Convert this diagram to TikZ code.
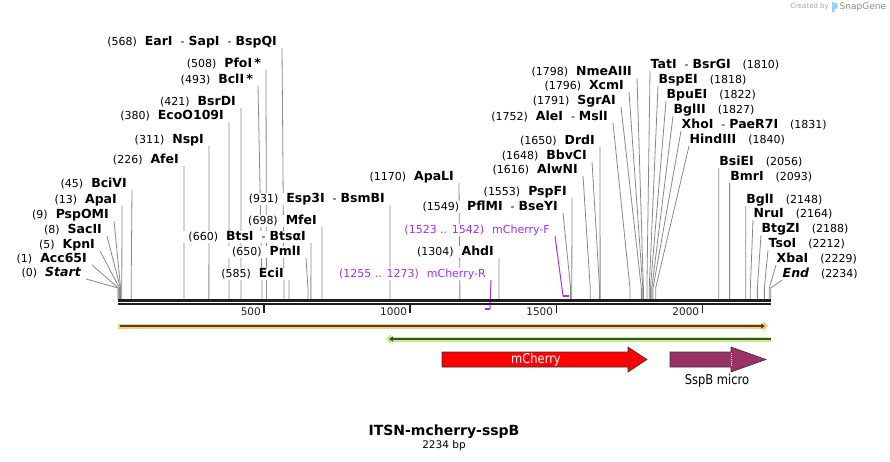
\documentclass[tikz,border=0pt]{standalone}
\usepackage{fontspec}
\setmainfont{DejaVu Sans}
\newfontfamily\featfont[FakeStretch=0.85]{DejaVu Sans}
\usetikzlibrary{arrows.meta}
\usetikzlibrary{backgrounds}

\definecolor{cutline}{RGB}{136,136,136}
\definecolor{primercol}{RGB}{160,50,240}
\definecolor{orangeband}{RGB}{252,204,120}
\definecolor{greenband}{RGB}{190,240,140}
\definecolor{orangeline}{RGB}{75,64,45}
\definecolor{greenline}{RGB}{62,78,50}
\definecolor{mcherryred}{RGB}{255,0,0}
\definecolor{sspbcol}{RGB}{153,51,102}
\definecolor{logogray}{RGB}{165,165,165}
\definecolor{logoblue}{RGB}{150,210,240}

\newcommand{\enz}[1]{{\fontsize{12.5}{14}\selectfont\bfseries #1}}

\begin{document}
\begin{tikzpicture}[
    x=1pt, y=-1pt,
    font=\fontsize{11}{12}\selectfont,
    lsite/.style={fill=white, inner xsep=5pt, inner ysep=0pt, text height=9.5pt, text depth=2pt, anchor=south east},
    rsite/.style={fill=white, inner xsep=0.5pt, inner ysep=0pt, text height=9.5pt, text depth=2pt, anchor=south west},
    psite/.style={lsite, text=primercol},
    cut/.style={cutline, line width=0.8pt},
    primer/.style={primercol, line width=1pt},
    primerbar/.style={primercol, line width=2pt},
    backbone/.style={black!88},
    tick/.style={black!88, line width=1.5pt},
    feature/.style={draw=black!80, line width=0.6pt}
  ]
  \useasboundingbox (0,0) rectangle (890,462);

  % cut site positions on the backbone
  \foreach \p in {0,1,5,8,9,13,45,226,311,380,421,493,508,568,585,650,660,698,931,
                  1170,1304,1549,1553,1616,1648,1650,1752,1791,1796,1798,1810,1818,
                  1822,1827,1831,1840,2056,2093,2148,2164,2188,2212,2229,2234} {
    \coordinate (b\p) at ({118+0.2922*\p},288);
    \coordinate (s\p) at ({118+0.2922*\p},299.2);
  }
  % primer ends
  \coordinate (pF1) at ({118+0.2922*1523},296);
  \coordinate (pF2) at ({118+0.2922*1542},296);
  \coordinate (pR1) at ({118+0.2922*1255},309);
  \coordinate (pR2) at ({118+0.2922*1273},309);

  % left labels
  \node[lsite] (earI) at (282,48) {(568)\hspace{8pt}\enz{EarI}\hspace{8pt}-\hspace{4pt}\enz{SapI}\hspace{8pt}-\hspace{4pt}\enz{BspQI}};
  \node[lsite] (pfoI) at (266,70) {(508)\hspace{8pt}\enz{PfoI\,*}};
  \node[lsite] (bclI) at (258,86) {(493)\hspace{8pt}\enz{BclI\,*}};
  \node[lsite] (bsrDI) at (241,108) {(421)\hspace{8pt}\enz{BsrDI}};
  \node[lsite] (ecoO) at (229,122) {(380)\hspace{8pt}\enz{EcoO109I}};
  \node[lsite] (nspI) at (209,146) {(311)\hspace{8pt}\enz{NspI}};
  \node[lsite] (afeI) at (184,166) {(226)\hspace{8pt}\enz{AfeI}};
  \node[lsite] (bciVI) at (132,190) {(45)\hspace{8pt}\enz{BciVI}};
  \node[lsite] (apaI) at (122,206) {(13)\hspace{8pt}\enz{ApaI}};
  \node[lsite] (pspOMI) at (114,221) {(9)\hspace{8pt}\enz{PspOMI}};
  \node[lsite] (sacII) at (107,236) {(8)\hspace{8pt}\enz{SacII}};
  \node[lsite] (kpnI) at (100,251) {(5)\hspace{8pt}\enz{KpnI}};
  \node[lsite] (acc65I) at (92,265) {(1)\hspace{8pt}\enz{Acc65I}};
  \node[lsite] (start) at (86,279) {(0)\hspace{8pt}\enz{\itshape Start}};

  \node[lsite] (esp3I) at (390,205) {(931)\hspace{8pt}\enz{Esp3I}\hspace{8pt}-\hspace{4pt}\enz{BsmBI}};
  \node[lsite] (mfeI) at (322,227) {(698)\hspace{8pt}\enz{MfeI}};
  \node[lsite] (btsI) at (311,243) {(660)\hspace{8pt}\enz{BtsI}\hspace{8pt}-\hspace{4pt}\enz{BtsαI}};
  \node[lsite] (pmlI) at (306,258) {(650)\hspace{8pt}\enz{PmlI}};
  \node[lsite] (eciI) at (289,280) {(585)\hspace{8pt}\enz{EciI}};

  \node[lsite] (apaLI) at (459,183) {(1170)\hspace{8pt}\enz{ApaLI}};
  \node[lsite] (ahdI) at (499,258) {(1304)\hspace{8pt}\enz{AhdI}};
  \node[lsite] (pflMI) at (563,213) {(1549)\hspace{8pt}\enz{PflMI}\hspace{8pt}-\hspace{4pt}\enz{BseYI}};
  \node[lsite] (pspFI) at (572,198) {(1553)\hspace{8pt}\enz{PspFI}};
  \node[lsite] (alwNI) at (583,176) {(1616)\hspace{8pt}\enz{AlwNI}};
  \node[lsite] (bbvCI) at (592,162) {(1648)\hspace{8pt}\enz{BbvCI}};
  \node[lsite] (drdI) at (600,147) {(1650)\hspace{8pt}\enz{DrdI}};
  \node[lsite] (aleI) at (613,123) {(1752)\hspace{8pt}\enz{AleI}\hspace{8pt}-\hspace{4pt}\enz{MslI}};
  \node[lsite] (sgrAI) at (621,107) {(1791)\hspace{8pt}\enz{SgrAI}};
  \node[lsite] (xcmI) at (629,92) {(1796)\hspace{8pt}\enz{XcmI}};
  \node[lsite] (nmeAIII) at (637,78) {(1798)\hspace{8pt}\enz{NmeAIII}};

  % primer labels
  \node[psite] (mcF) at (555,236) {(1523 .. 1542)\hspace{8pt}mCherry-F};
  \node[psite] (mcR) at (491,280) {(1255 .. 1273)\hspace{8pt}mCherry-R};

  % right labels
  \node[rsite] (tatI) at (650,71) {\enz{TatI}\hspace{8pt}-\hspace{4pt}\enz{BsrGI}\hspace{12pt}(1810)};
  \node[rsite] (bspEI) at (658,86) {\enz{BspEI}\hspace{12pt}(1818)};
  \node[rsite] (bpuEI) at (666,101) {\enz{BpuEI}\hspace{12pt}(1822)};
  \node[rsite] (bglII) at (673,116) {\enz{BglII}\hspace{12pt}(1827)};
  \node[rsite] (xhoI) at (681,131) {\enz{XhoI}\hspace{8pt}-\hspace{4pt}\enz{PaeR7I}\hspace{12pt}(1831)};
  \node[rsite] (hindIII) at (689,146) {\enz{HindIII}\hspace{12pt}(1840)};
  \node[rsite] (bsiEI) at (718.7,168) {\enz{BsiEI}\hspace{12pt}(2056)};
  \node[rsite] (bmrI) at (729.6,183) {\enz{BmrI}\hspace{12pt}(2093)};
  \node[rsite] (bglI) at (745.7,206) {\enz{BglI}\hspace{12pt}(2148)};
  \node[rsite] (nruI) at (753,220) {\enz{NruI}\hspace{12pt}(2164)};
  \node[rsite] (btgZI) at (761,235) {\enz{BtgZI}\hspace{12pt}(2188)};
  \node[rsite] (tsoI) at (768,250) {\enz{TsoI}\hspace{12pt}(2212)};
  \node[rsite] (xbaI) at (776,265) {\enz{XbaI}\hspace{12pt}(2229)};
  \node[rsite] (theEnd) at (782,280) {\enz{\itshape End}\hspace{12pt}(2234)};

  % lines from labels to sites
  \begin{scope}[on background layer]
    \draw[cut] (earI.south east) -- (b568) -- (s568);
    \draw[cut] (pfoI.south east) -- (b508) -- (s508);
    \draw[cut] (bclI.south east) -- (b493) -- (s493);
    \draw[cut] (bsrDI.south east) -- (b421) -- (s421);
    \draw[cut] (ecoO.south east) -- (b380) -- (s380);
    \draw[cut] (nspI.south east) -- (b311) -- (s311);
    \draw[cut] (afeI.south east) -- (b226) -- (s226);
    \draw[cut] (bciVI.south east) -- (b45) -- (s45);
    \draw[cut] (apaI.south east) -- (b13) -- (s13);
    \draw[cut] (pspOMI.south east) -- (b9) -- (s9);
    \draw[cut] (sacII.south east) -- (b8) -- (s8);
    \draw[cut] (kpnI.south east) -- (b5) -- (s5);
    \draw[cut] (acc65I.south east) -- (b1) -- (s1);
    \draw[cut] (start.south east) -- (b0) -- (s0);
    \draw[cut] (esp3I.south east) -- (b931) -- (s931);
    \draw[cut] (mfeI.south east) -- (b698) -- (s698);
    \draw[cut] (btsI.south east) -- (b660) -- (s660);
    \draw[cut] (pmlI.south east) -- (b650) -- (s650);
    \draw[cut] (eciI.south east) -- (b585) -- (s585);
    \draw[cut] (apaLI.south east) -- (b1170) -- (s1170);
    \draw[cut] (ahdI.south east) -- (b1304) -- (s1304);
    \draw[cut] (pflMI.south east) -- (b1549) -- (s1549);
    \draw[cut] (pspFI.south east) -- (b1553) -- (s1553);
    \draw[cut] (alwNI.south east) -- (b1616) -- (s1616);
    \draw[cut] (bbvCI.south east) -- (b1648) -- (s1648);
    \draw[cut] (drdI.south east) -- (b1650) -- (s1650);
    \draw[cut] (aleI.south east) -- (b1752) -- (s1752);
    \draw[cut] (sgrAI.south east) -- (b1791) -- (s1791);
    \draw[cut] (xcmI.south east) -- (b1796) -- (s1796);
    \draw[cut] (nmeAIII.south east) -- (b1798) -- (s1798);
    \draw[cut] (tatI.south west) -- (b1810) -- (s1810);
    \draw[cut] (bspEI.south west) -- (b1818) -- (s1818);
    \draw[cut] (bpuEI.south west) -- (b1822) -- (s1822);
    \draw[cut] (bglII.south west) -- (b1827) -- (s1827);
    \draw[cut] (xhoI.south west) -- (b1831) -- (s1831);
    \draw[cut] (hindIII.south west) -- (b1840) -- (s1840);
    \draw[cut] (bsiEI.south west) -- (b2056) -- (s2056);
    \draw[cut] (bmrI.south west) -- (b2093) -- (s2093);
    \draw[cut] (bglI.south west) -- (b2148) -- (s2148);
    \draw[cut] (nruI.south west) -- (b2164) -- (s2164);
    \draw[cut] (btgZI.south west) -- (b2188) -- (s2188);
    \draw[cut] (tsoI.south west) -- (b2212) -- (s2212);
    \draw[cut] (xbaI.south west) -- (b2229) -- (s2229);
    \draw[cut] (theEnd.south west) -- (b2234) -- (s2234);
    % primers
    \draw[primer] (mcF.south east) -- (pF1);
    \draw[primerbar] (pF1) -- (pF2);
    \draw[primer] (mcR.south east) -- (pR2);
    \draw[primerbar] (pR2) -- (pR1);
  \end{scope}

  % backbone and ruler
  \draw[backbone, line width=2.5pt] (118,300.5) -- (771,300.5);
  \draw[backbone, line width=2pt] (118,304.3) -- (771,304.3);
  \foreach \t in {500,1000,1500,2000}
    \draw[tick] ({118+0.2922*\t},304.5) -- ++(0,8)
      node[anchor=east, inner sep=1pt, xshift=-1.5pt, yshift=0.5pt, font=\fontsize{10.5}{12}\selectfont] (tick\t) {\t};

  % features
  \draw[orangeband, line width=5pt, -{Triangle[length=5pt,width=10pt]}] (118,326) -- (768,326);
  \draw[orangeline, line width=1.3pt, -{Triangle[length=4pt,width=5pt]}] (120,326) -- (765,326);
  \draw[greenband, line width=5pt, -{Triangle[length=5pt,width=10pt]}] (771,339) -- (386,339);
  \draw[greenline, line width=1.3pt, -{Triangle[length=4pt,width=5pt]}] (771,339) -- (389,339);

  \draw[feature, fill=mcherryred] (442,352) -- (628,352) -- (628,347) -- (647,359.5)
    -- (628,372) -- (628,367) -- (442,367) -- cycle;
  \node[text=white, font=\featfont\fontsize{13.5}{15}\selectfont] (mcLbl) at (536,359.5) {mCherry};

  \draw[feature, fill=sspbcol] (670,352) -- (731,352) -- (731,347) -- (766,359.5)
    -- (731,372) -- (731,367) -- (670,367) -- cycle;
  \draw[white, line width=0.6pt, dash pattern=on 1pt off 1pt] (731,352.5) -- (731,366.5);
  \node[font=\featfont\fontsize{13.5}{15}\selectfont] (sspLbl) at (717,381) {SspB micro};

  % title
  \node[font=\fontsize{14}{16}\selectfont\bfseries] (title) at (444,432) {ITSN-mcherry-sspB};
  \node[font=\fontsize{10.5}{12}\selectfont] (size) at (444,446) {2234 bp};

  % credit
  \node[logogray, font=\fontsize{7}{8}\selectfont, anchor=east, inner sep=0pt] (credit) at (829,7) {Created by};
  \fill[logoblue] (832,2) -- (837.5,3.5) -- (837.5,8) -- (834.5,9.5) -- (834.5,12.5) -- (832,12) -- cycle;
  \node[logogray!85!black, font=\fontsize{9}{10}\selectfont, anchor=west, inner sep=0pt] (snapgene) at (839.5,7) {SnapGene};
\end{tikzpicture}
\end{document}
